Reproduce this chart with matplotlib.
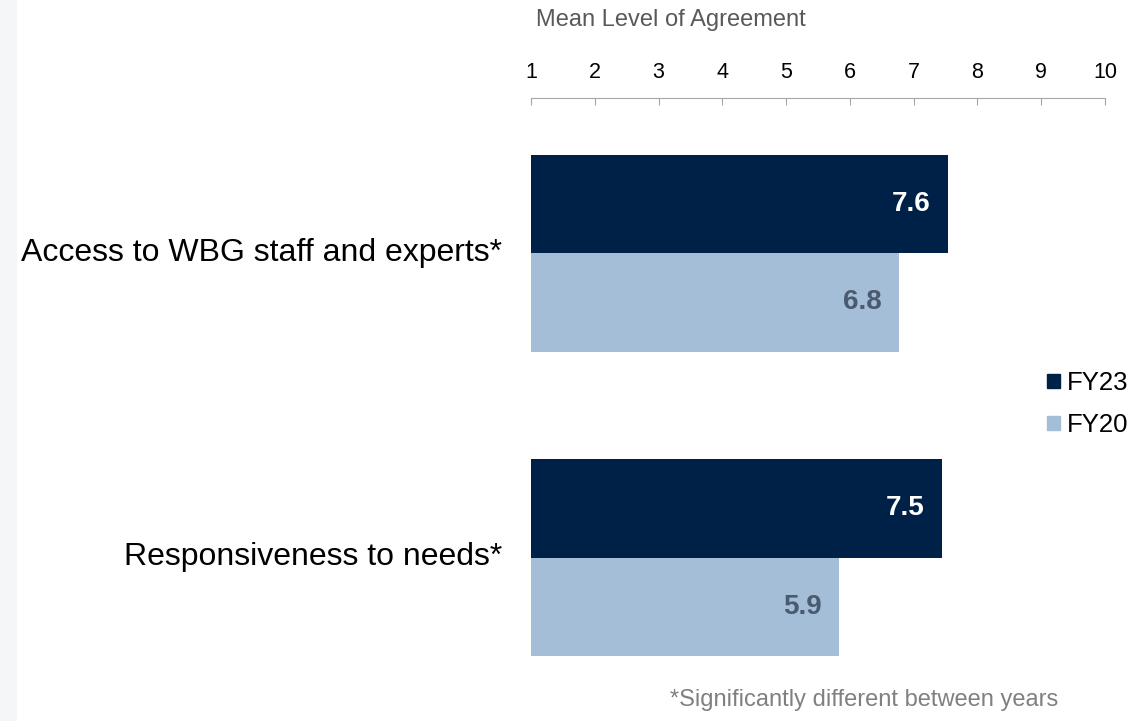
import matplotlib
matplotlib.use('Agg')
import matplotlib.pyplot as plt
import matplotlib.patches as mpatches

plt.rcParams['font.family'] = ['Liberation Sans', 'DejaVu Sans']

# 数据 (条长按图中像素读取, 标签按图中文字)
categories = ['Access to WBG staff and experts*', 'Responsiveness to needs*']
fy23 = [7.54, 7.44]
fy20 = [6.77, 5.83]
fy23_labels = ['7.6', '7.5']
fy20_labels = ['6.8', '5.9']
series_names = ['FY23', 'FY20']
xticks = [1, 2, 3, 4, 5, 6, 7, 8, 9, 10]

c23 = '#002147'
c20 = '#A3BED6'

fig = plt.figure(figsize=(11.48, 7.21), dpi=100)
fig.patch.set_facecolor('white')
# 左侧浅灰条
fig.add_artist(mpatches.Rectangle((0, 0), 16 / 1148, 1, transform=fig.transFigure,
                                  color='#F5F6F8', zorder=0))

# 坐标轴: 顶部线在y=98px, 底部700px
top_px = 98
ax = fig.add_axes([531 / 1148, 1 - 700 / 721, 574 / 1148, (700 - top_px) / 721])
unit = 304.5  # 两组之间的像素距离
h = 98.5 / unit
ys = list(range(len(categories)))
ax.barh([y - h / 2 for y in ys], [v - 1 for v in fy23], left=1, height=h, color=c23)
ax.barh([y + h / 2 for y in ys], [v - 1 for v in fy20], left=1, height=h, color=c20)

for y, v, lb in zip(ys, fy23, fy23_labels):
    ax.text(v - 0.27, y - h / 2, lb, color='white', fontsize=20, fontweight='bold',
            ha='right', va='center')
for y, v, lb in zip(ys, fy20, fy20_labels):
    ax.text(v - 0.27, y + h / 2, lb, color='#4A5A70', fontsize=20, fontweight='bold',
            ha='right', va='center')

for y, name in zip(ys, categories):
    ax.text(-29 / 574, y, name, transform=ax.get_yaxis_transform(), ha='right', va='center',
            fontsize=23, color='black')

y_top = -(253 - top_px) / unit
ax.set_xlim(1, 10)
ax.set_ylim(y_top + (700 - top_px) / unit, y_top)
ax.set_yticks([])
ax.xaxis.tick_top()
ax.set_xticks(xticks)
ax.set_xticklabels([str(t) for t in xticks], fontsize=15.5)
ax.tick_params(axis='x', direction='in', length=5, color='#A6A6A6', pad=11)
for s in ['right', 'bottom', 'left']:
    ax.spines[s].set_visible(False)
ax.spines['top'].set_color('#A6A6A6')

fig.text(536 / 1148, 1 - 20 / 721, 'Mean Level of Agreement', fontsize=17, color='#595959',
         ha='left', va='center')
fig.text(1058 / 1148, 1 - 700 / 721, '*Significantly different between years', fontsize=17,
         color='#808080', ha='right', va='center')

# 图例
handles = [mpatches.Patch(color=c23), mpatches.Patch(color=c20)]
fig.legend(handles, series_names, loc='center left', bbox_to_anchor=(1047 / 1148, 1 - 404 / 721),
           frameon=False, fontsize=18.5, handlelength=0.5, handleheight=0.5, handletextpad=0.27,
           labelspacing=0.7, borderpad=0, borderaxespad=0)

plt.savefig('out.png', dpi=100)
